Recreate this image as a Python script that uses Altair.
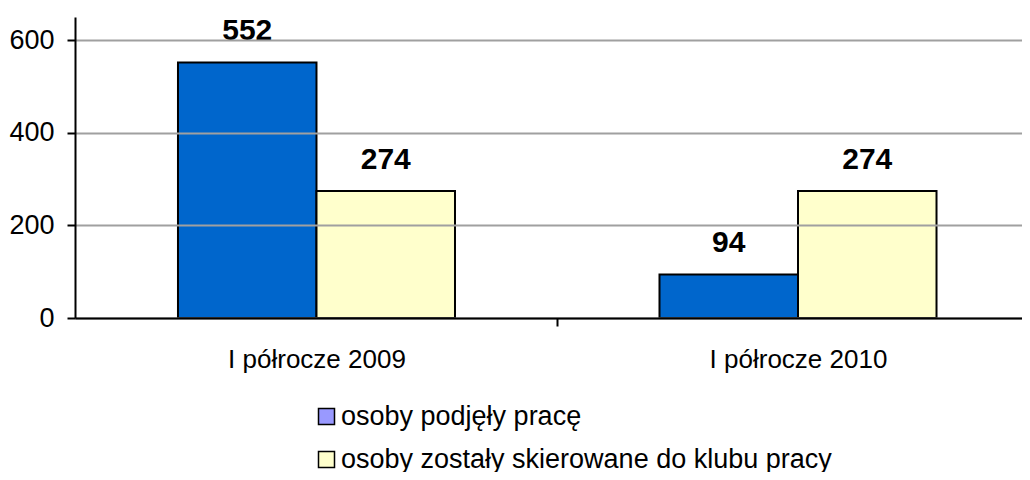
import altair as alt
import pandas as pd

categories = ["I półrocze 2009", "I półrocze 2010"]
series = ["osoby podjęły pracę", "osoby zostały skierowane do klubu pracy"]
values_podjely = [552, 94]
values_klub = [274, 274]
bar_colors = ["#0066CC", "#FFFFCC"]
legend_colors = ["#9999FF", "#FFFFCC"]
y_ticks = [0, 200, 400, 600]

rows = []
for i, c in enumerate(categories):
    rows.append({"kategoria": c, "seria": series[0], "wartosc": values_podjely[i]})
    rows.append({"kategoria": c, "seria": series[1], "wartosc": values_klub[i]})
df = pd.DataFrame(rows)

FONT = "Liberation Sans"

x_enc = alt.X(
    "kategoria:N",
    sort=categories,
    scale=alt.Scale(paddingInner=0.4247, paddingOuter=0.1957, align=0.5464),
    axis=alt.Axis(
        title=None,
        labelAngle=0,
        tickOffset=240.75,
        labelOffset=-240.75,
        labelFontSize=26,
        labelFont=FONT,
        labelColor="black",
        labelPadding=20,
        tickSize=8,
        tickColor="black",
        tickWidth=2,
        domainColor="black",
        domainWidth=2,
        grid=False,
        zindex=1,
    ),
)
xoff_enc = alt.XOffset("seria:N", sort=series, scale=alt.Scale(paddingInner=0, paddingOuter=0))
y_enc = alt.Y(
    "wartosc:Q",
    scale=alt.Scale(domain=[0, 650], nice=False),
    axis=alt.Axis(
        title=None,
        values=y_ticks,
        labelFontSize=27,
        labelFont=FONT,
        labelColor="black",
        labelPadding=13,
        tickSize=8,
        tickColor="black",
        tickWidth=2,
        domainColor="black",
        domainWidth=2,
        grid=True,
        gridColor="#A0A0A0",
        gridWidth=2,
        zindex=1,
    ),
)

bars = alt.Chart(df).mark_bar(stroke="black", strokeWidth=2).encode(
    x=x_enc,
    xOffset=xoff_enc,
    y=y_enc,
    fill=alt.Fill("seria:N", sort=series,
                  scale=alt.Scale(domain=series, range=bar_colors), legend=None),
)

legend_layer = alt.Chart(df).mark_square(opacity=0, size=256).encode(
    x=x_enc,
    xOffset=xoff_enc,
    y=y_enc,
    color=alt.Color(
        "seria:N",
        sort=series,
        scale=alt.Scale(domain=series, range=legend_colors),
        legend=alt.Legend(
            title=None,
            orient="none",
            legendX=238,
            legendY=386,
            direction="vertical",
            symbolType="square",
            symbolSize=256,
            symbolOpacity=1,
            symbolStrokeColor="black",
            symbolStrokeWidth=1.5,
            labelFontSize=27,
            labelFont=FONT,
            labelColor="black",
            labelOffset=1,
            rowPadding=15,
            labelLimit=0,
        ),
    ),
)

labels = alt.Chart(df).mark_text(
    dy=-22, baseline="alphabetic", fontSize=30, fontWeight="bold", font=FONT, color="black"
).encode(
    x=x_enc,
    xOffset=xoff_enc,
    y=y_enc,
    text=alt.Text("wartosc:Q"),
)

chart = (
    alt.layer(bars, legend_layer, labels)
    .resolve_scale(color="independent", fill="independent")
    .properties(
        width=947,
        height=301,
        autosize=alt.AutoSizeParams(type="none"),
        padding={"left": 67, "top": 9, "right": 0, "bottom": 154},
        background="white",
    )
    .configure_view(stroke=None)
)

chart.save("out.html", embed_options={"renderer": "svg", "actions": False})
